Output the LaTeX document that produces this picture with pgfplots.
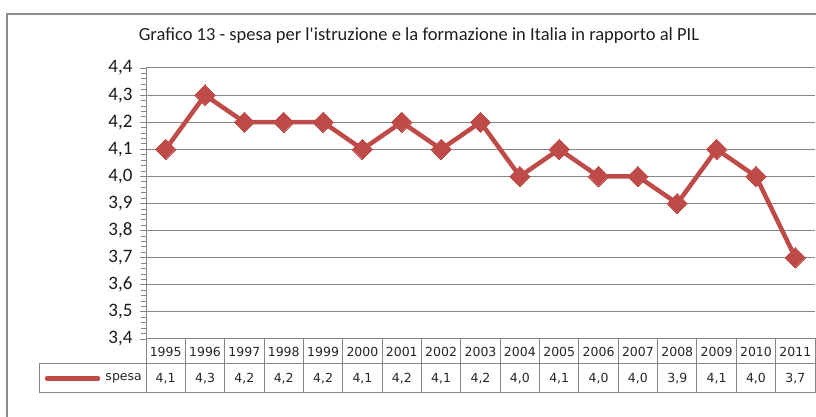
\documentclass[border=0pt]{standalone}
\usepackage{pgfplots}
\pgfplotsset{compat=1.18}
\usepackage{fontspec}
\setmainfont{Carlito}
\newfontfamily\tabfont{DejaVu Sans}
\definecolor{serie}{HTML}{BE4B48}
\definecolor{gridc}{HTML}{868686}
\definecolor{framec}{HTML}{8C8C8C}
\begin{document}
\begin{tikzpicture}[x=1pt,y=1pt]
\useasboundingbox (0,0) rectangle (816,417);
\draw[framec, line width=2pt] (7,0) -- (7,403) -- (817,403);
\node[font=\fontsize{18.5}{18.5}\selectfont, text=black!88] at (419,381) {Grafico 13 - spesa per l\textquotesingle istruzione e la formazione in Italia in rapporto al PIL};
\begin{axis}[
  at={(146pt,78pt)}, anchor=south west,
  scale only axis, width=669pt, height=271pt,
  xmin=-0.5, xmax=16.5, ymin=3.4, ymax=4.4,
  axis y line*=left, axis x line=none,
  xtick=\empty,
  ytick={3.4,3.5,3.6,3.7,3.8,3.9,4.0,4.1,4.2,4.3,4.4},
  minor y tick num=4,
  tick align=outside,
  major tick length=6pt, minor tick length=5pt,
  ymajorgrids,
  major grid style={gridc, line width=1pt},
  every tick/.style={gridc, line width=0.8pt},
  y axis line style={gridc, line width=1pt},
  yticklabel style={font=\fontsize{19}{19}\selectfont, xshift=-4pt, text=black!90},
  /pgf/number format/.cd, fixed, fixed zerofill, precision=1, use comma, assume math mode=true,
  /pgfplots/.cd,
  clip=false,
]
\addplot[serie, line width=4.5pt, mark=square*, mark size=7.2pt,
  mark options={rotate=45, line width=0pt, fill=serie}] table[x=i, y=v] {
i v
0 4.1
1 4.3
2 4.2
3 4.2
4 4.2
5 4.1
6 4.2
7 4.1
8 4.2
9 4.0
10 4.1
11 4.0
12 4.0
13 3.9
14 4.1
15 4.0
16 3.7
};
\end{axis}
% data table
\pgfmathsetmacro{\w}{669/17}
\draw[gridc, line width=1pt] (146,78) -- (817,78);
\draw[gridc, line width=1pt] (39,53) -- (817,53);
\draw[gridc, line width=1pt] (39,24) -- (817,24);
\draw[gridc, line width=1pt] (39,24) -- (39,53);
\foreach \k in {0,...,17} {
  \draw[gridc, line width=1pt] (146+\k*\w,24) -- (146+\k*\w,78);
}
\foreach \yr [count=\i from 0] in {1995,1996,1997,1998,1999,2000,2001,2002,2003,2004,2005,2006,2007,2008,2009,2010,2011} {
  \node[font=\tabfont\fontsize{12.5}{12.5}\selectfont, text=black!85] at (146+\i*\w+\w/2,65.5) {\yr};
}
\foreach \v [count=\i from 0] in {{4,1},{4,3},{4,2},{4,2},{4,2},{4,1},{4,2},{4,1},{4,2},{4,0},{4,1},{4,0},{4,0},{3,9},{4,1},{4,0},{3,7}} {
  \node[font=\tabfont\fontsize{12.5}{12.5}\selectfont, text=black!85] at (146+\i*\w+\w/2,38.5) {\v};
}
\draw[serie, line width=4.5pt, line cap=round] (47,38.5) -- (98,38.5);
\fill[serie, rotate around={45:(72,38.5)}] (70,36.5) rectangle (74,40.5);
\node[font=\tabfont\fontsize{12.5}{12.5}\selectfont, text=black!85, anchor=east, inner sep=1pt] at (143,38.5) {spesa};
\end{tikzpicture}
\end{document}
